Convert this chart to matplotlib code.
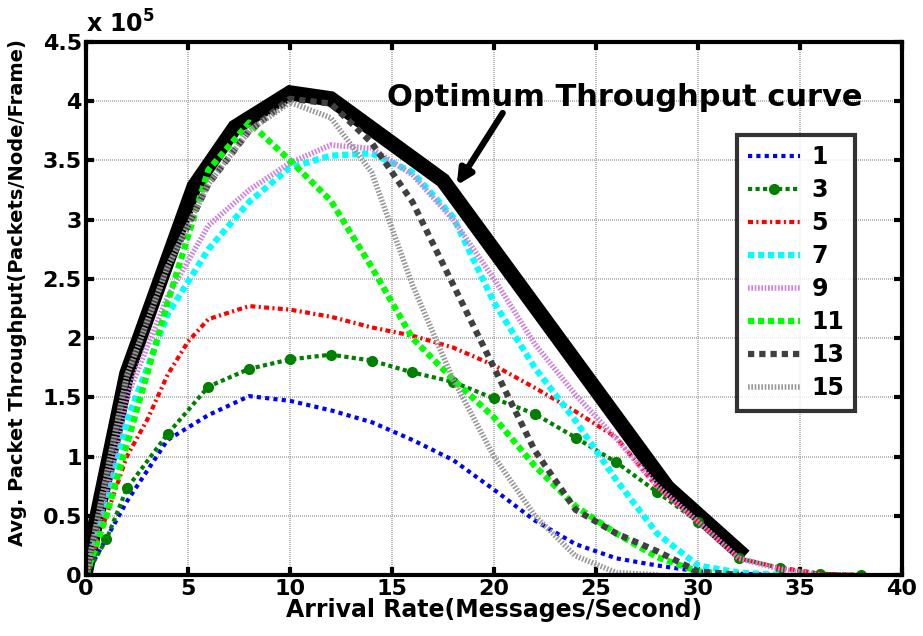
"""
Average packet throughput vs arrival rate, with optimum throughput envelope.
"""

import matplotlib

matplotlib.use("Agg")
import matplotlib.pyplot as plt

plt.rcParams["font.family"] = ["DejaVu Sans"]
plt.rcParams["font.weight"] = "bold"
plt.rcParams["mathtext.default"] = "bf"

# throughput values in units of 1e5
X_1 = [0, 2, 4, 6, 8, 10, 12, 14, 16, 18, 20, 22, 24, 26, 28, 30, 32, 34, 36, 38]
Y_1 = [0, 0.62, 1.14, 1.35, 1.51, 1.47, 1.39, 1.29, 1.14, 0.97, 0.72, 0.46, 0.26, 0.14, 0.08, 0.03, 0.01, 0, 0, 0]

X_3 = [0, 1, 2, 4, 6, 8, 10, 12, 14, 16, 18, 20, 22, 24, 26, 28, 30, 32, 34, 36, 38]
Y_3 = [0, 0.30, 0.73, 1.19, 1.59, 1.74, 1.82, 1.86, 1.81, 1.71, 1.63, 1.49, 1.36, 1.16, 0.95, 0.70, 0.45, 0.14, 0.06, 0.01, 0]

X_5 = [0, 1, 2, 3, 4, 5, 6, 8, 10, 12, 14, 16, 18, 20, 22, 24, 26, 28, 30, 32, 34, 36, 38]
Y_5 = [0, 0.5, 1.0, 1.31, 1.69, 1.97, 2.16, 2.27, 2.24, 2.18, 2.09, 2.02, 1.92, 1.77, 1.58, 1.38, 1.16, 0.74, 0.45, 0.14, 0.06, 0.01, 0]

X_7 = [0, 1, 2, 4, 6, 8, 10, 12, 14, 16, 18, 20, 22, 24, 26, 28, 30, 32, 34]
Y_7 = [0, 0.6, 1.3, 2.2, 2.75, 3.15, 3.44, 3.54, 3.56, 3.40, 3.02, 2.30, 1.75, 1.30, 0.80, 0.35, 0.08, 0.02, 0]

X_9 = [0, 1, 2, 4, 6, 8, 10, 12, 14, 16, 18, 20, 22, 24, 26, 28, 30, 32, 34, 36]
Y_9 = [0, 0.7, 1.5, 2.35, 2.95, 3.25, 3.48, 3.63, 3.60, 3.38, 3.00, 2.50, 1.95, 1.52, 1.15, 0.75, 0.45, 0.14, 0.05, 0]

X_11 = [0, 1, 2, 4, 6, 8, 10, 12, 14, 16, 18, 20, 22, 24, 26, 28, 30, 32]
Y_11 = [0, 0.5, 1.1, 2.3, 3.42, 3.82, 3.50, 3.16, 2.60, 2.00, 1.65, 1.33, 0.92, 0.58, 0.35, 0.15, 0.03, 0]

X_13 = [0, 2, 4, 6, 8, 10, 12, 14, 16, 18, 20, 22, 24, 26, 28, 30, 32]
Y_13 = [0, 1.68, 2.6, 3.3, 3.75, 4.02, 3.98, 3.65, 3.15, 2.45, 1.75, 1.05, 0.55, 0.35, 0.20, 0.03, 0]

X_15 = [0, 2, 4, 6, 8, 10, 12, 14, 16, 18, 20, 22, 24, 26, 28]
Y_15 = [0, 1.68, 2.6, 3.3, 3.75, 3.99, 3.86, 3.40, 2.45, 1.65, 1.00, 0.50, 0.16, 0.02, 0]

X_OPT = [0, 2, 5.3, 7.3, 10, 12, 17.5, 28.5, 32]
Y_OPT = [0.05, 1.70, 3.28, 3.78, 4.07, 4.02, 3.33, 0.74, 0.20]

SERIES = [
    ("1", X_1, Y_1, dict(color="#0000ff", linestyle=(0, (1, 1)), linewidth=3)),
    ("3", X_3, Y_3, dict(color="#007f00", linestyle=(0, (1, 0.8)), linewidth=3,
                         marker="o", markersize=7)),
    ("5", X_5, Y_5, dict(color="#ff0000", linestyle=(0, (1.2, 0.8, 0.5, 0.8)), linewidth=3)),
    ("7", X_7, Y_7, dict(color="#00ffff", linestyle=(0, (1, 0.6)), linewidth=4.5)),
    ("9", X_9, Y_9, dict(color="#d080e0", linestyle=(0, (0.3, 0.3)), linewidth=4)),
    ("11", X_11, Y_11, dict(color="#00ff00", linestyle=(0, (1, 0.6)), linewidth=4.5)),
    ("13", X_13, Y_13, dict(color="#404040", linestyle=(0, (1, 0.8)), linewidth=4.5)),
    ("15", X_15, Y_15, dict(color="#999999", linestyle=(0, (0.3, 0.3)), linewidth=4)),
]

X_TICKS = [0, 5, 10, 15, 20, 25, 30, 35, 40]
Y_TICKS = [0, 0.5, 1, 1.5, 2, 2.5, 3, 3.5, 4, 4.5]
Y_TICK_LABELS = ["0", "0.5", "1", "1.5", "2", "2.5", "3", "3.5", "4", "4.5"]

fig = plt.figure(figsize=(9.23, 6.36), dpi=100)
ax = fig.add_axes([0.0932, 0.096, 0.884, 0.838])

ax.plot(X_OPT, Y_OPT, color="black", linewidth=11, solid_joinstyle="miter", zorder=1)

handles = []
for label, xs, ys, style in SERIES:
    (h,) = ax.plot(xs, ys, label=label, zorder=2, **style)
    handles.append(h)

ax.set_xlim(0, 40)
ax.set_ylim(0, 4.5)
ax.set_xticks(X_TICKS)
ax.set_yticks(Y_TICKS)
ax.set_yticklabels(Y_TICK_LABELS)
ax.tick_params(direction="in", length=6, width=3, labelsize=16, top=True, right=True, pad=3)
for lbl in ax.get_xticklabels() + ax.get_yticklabels():
    lbl.set_fontweight("bold")
for spine in ax.spines.values():
    spine.set_linewidth(3)
ax.grid(True, color="#aaaaaa", linestyle=(0, (0.6, 0.6)), linewidth=1.2)
ax.set_axisbelow(True)

ax.set_xlabel("Arrival Rate(Messages/Second)", fontsize=17, fontweight="bold", labelpad=-1)
ax.set_ylabel("Avg. Packet Throughput(Packets/Node/Frame)", fontsize=14, fontweight="bold")
ax.yaxis.set_label_coords(-0.072, 0.53)
ax.text(0.0, 1.008, "x 10$^5$", transform=ax.transAxes, fontsize=17, fontweight="bold",
        ha="left", va="bottom")

ax.annotate(
    "",
    xy=(18.1, 3.27),
    xytext=(20.5, 3.92),
    arrowprops=dict(arrowstyle="-|>,head_length=0.9,head_width=0.45", color="black", linewidth=4.5),
)
ax.text(26.4, 4.03, "Optimum Throughput curve", fontsize=22, fontweight="bold", ha="center", va="center")

leg = ax.legend(
    handles=handles,
    loc="upper left",
    bbox_to_anchor=(0.798, 0.826),
    borderaxespad=0,
    fontsize=17,
    frameon=True,
    fancybox=False,
    edgecolor="black",
    handlelength=2.2,
    handletextpad=0.5,
    labelspacing=0.38,
    borderpad=0.45,
)
leg.get_frame().set_linewidth(3)
for t in leg.get_texts():
    t.set_fontweight("bold")

fig.savefig("out.png", dpi=100)
